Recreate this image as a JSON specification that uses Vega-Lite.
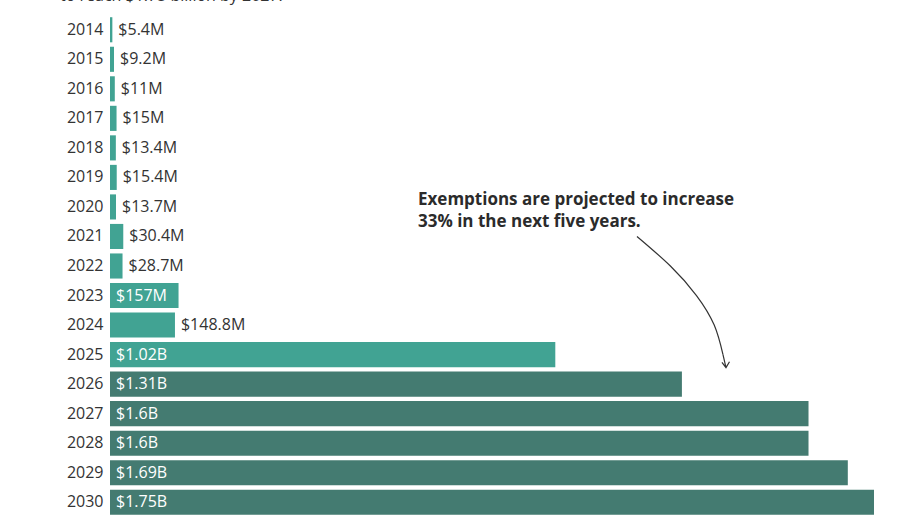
{
  "$schema": "https://vega.github.io/schema/vega-lite/v6.json",
  "autosize": "none",
  "width": 764,
  "height": 502,
  "padding": {"left": 110, "top": 15, "right": 50, "bottom": 3},
  "title": {"text": "to reach $1.75 billion by 2027.", "anchor": "start", "frame": "group", "dx": -50, "offset": -2, "fontSize": 16, "font": "Open Sans", "fontWeight": "normal", "color": "#333333", "baseline": "alphabetic"},
  "config": {"view": {"stroke": null}, "font": "Open Sans"},
  "datasets": {
    "bars": [
      {"year": "2014", "value": 0.0054, "type": "Actual", "label": "$5.4M"},
      {"year": "2015", "value": 0.0092, "type": "Actual", "label": "$9.2M"},
      {"year": "2016", "value": 0.011, "type": "Actual", "label": "$11M"},
      {"year": "2017", "value": 0.015, "type": "Actual", "label": "$15M"},
      {"year": "2018", "value": 0.0134, "type": "Actual", "label": "$13.4M"},
      {"year": "2019", "value": 0.0154, "type": "Actual", "label": "$15.4M"},
      {"year": "2020", "value": 0.0137, "type": "Actual", "label": "$13.7M"},
      {"year": "2021", "value": 0.0304, "type": "Actual", "label": "$30.4M"},
      {"year": "2022", "value": 0.0287, "type": "Actual", "label": "$28.7M"},
      {"year": "2023", "value": 0.157, "type": "Actual", "label": "$157M"},
      {"year": "2024", "value": 0.1488, "type": "Actual", "label": "$148.8M"},
      {"year": "2025", "value": 1.02, "type": "Actual", "label": "$1.02B"},
      {"year": "2026", "value": 1.31, "type": "Projected", "label": "$1.31B"},
      {"year": "2027", "value": 1.6, "type": "Projected", "label": "$1.6B"},
      {"year": "2028", "value": 1.6, "type": "Projected", "label": "$1.6B"},
      {"year": "2029", "value": 1.69, "type": "Projected", "label": "$1.69B"},
      {"year": "2030", "value": 1.75, "type": "Projected", "label": "$1.75B"}
    ],
    "note1": [
      {"year": "2020", "x": 0.7055, "line": "Exemptions are projected to increase"}
    ],
    "note2": [
      {"year": "2020", "x": 0.7055, "line": "33% in the next five years."}
    ],
    "arrow": [
      {"year": "2021", "x": 1.2071, "i": 1},
      {"year": "2022", "x": 1.2836, "i": 2},
      {"year": "2023", "x": 1.3434, "i": 3},
      {"year": "2024", "x": 1.384, "i": 4},
      {"year": "2025", "x": 1.4041, "i": 5}
    ]
  },
  "encoding": {
    "y": {"field": "year", "type": "ordinal", "scale": {"paddingInner": 0.15, "paddingOuter": 0.075},
      "axis": {"title": null, "domain": false, "ticks": false, "labelPadding": 7, "labelFontSize": 16, "labelColor": "#333333", "labelFont": "Open Sans"}}
  },
  "layer": [
    {
      "data": {"name": "bars"},
      "mark": {"type": "bar"},
      "encoding": {
        "x": {"field": "value", "type": "quantitative", "scale": {"domain": [0, 1.75], "nice": false}, "axis": null},
        "color": {"field": "type", "type": "nominal", "scale": {"domain": ["Actual", "Projected"], "range": ["#41a393", "#447b71"]}, "legend": null}
      }
    },
    {
      "data": {"name": "bars"},
      "transform": [{"filter": "datum.value >= 0.15"}],
      "mark": {"type": "text", "align": "left", "baseline": "middle", "dx": 6, "fontSize": 16, "color": "#ffffff", "font": "Open Sans"},
      "encoding": {
        "x": {"datum": 0, "type": "quantitative"},
        "text": {"field": "label"}
      }
    },
    {
      "data": {"name": "bars"},
      "transform": [{"filter": "datum.value < 0.15"}],
      "mark": {"type": "text", "align": "left", "baseline": "middle", "dx": 6, "fontSize": 16, "color": "#333333", "font": "Open Sans"},
      "encoding": {
        "x": {"field": "value", "type": "quantitative"},
        "text": {"field": "label"}
      }
    },
    {
      "data": {"name": "note1"},
      "mark": {"type": "text", "align": "left", "baseline": "middle", "dy": -7, "fontSize": 17, "fontWeight": "bold", "color": "#2b2b2b", "font": "Open Sans"},
      "encoding": {
        "x": {"field": "x", "type": "quantitative"},
        "text": {"field": "line"}
      }
    },
    {
      "data": {"name": "note2"},
      "mark": {"type": "text", "align": "left", "baseline": "middle", "dy": 15, "fontSize": 17, "fontWeight": "bold", "color": "#2b2b2b", "font": "Open Sans"},
      "encoding": {
        "x": {"field": "x", "type": "quantitative"},
        "text": {"field": "line"}
      }
    },
    {
      "data": {"name": "arrow"},
      "mark": {"type": "line", "interpolate": "natural", "color": "#333333", "strokeWidth": 1.2},
      "encoding": {
        "x": {"field": "x", "type": "quantitative"},
        "order": {"field": "i"}
      }
    },
    {
      "data": {"name": "arrow"},
      "transform": [{"filter": "datum.i == 5"}],
      "mark": {"type": "point", "shape": "M0,0L0.23,1M-0.08,0.6L0.23,1L0.5,0.55", "size": 676, "filled": false, "stroke": "#333333", "strokeWidth": 1.2, "opacity": 1},
      "encoding": {
        "x": {"field": "x", "type": "quantitative"}
      }
    }
  ]
}
